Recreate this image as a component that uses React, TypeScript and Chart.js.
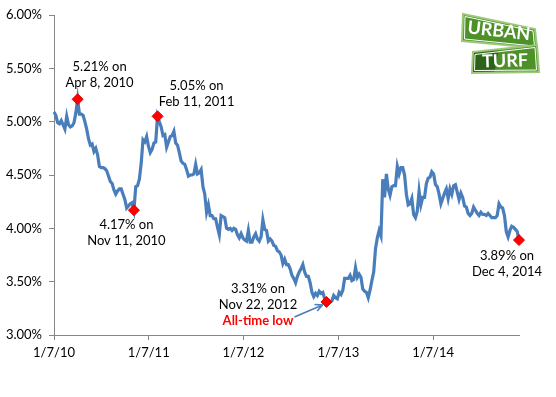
import React, { useEffect, useRef } from 'react';
import { Chart, registerables } from 'chart.js';

Chart.register(...registerables);

// Weekly 30-year fixed rates (%), first week = 1/7/10
const rates2010 = [5.09, 5.06, 4.99, 4.98, 5.01, 4.97, 4.93, 5.05, 4.97, 4.95, 4.96, 4.99, 5.08, 5.21, 5.07, 5.07, 5.06, 5.00, 4.93, 4.84, 4.78, 4.79, 4.72, 4.75, 4.69, 4.58, 4.57, 4.57, 4.56, 4.54, 4.49, 4.44, 4.42, 4.36, 4.32, 4.35, 4.37, 4.37, 4.32, 4.27, 4.19, 4.21, 4.23, 4.24, 4.17, 4.39, 4.40, 4.46, 4.61, 4.83, 4.81, 4.86];
const rates2011 = [4.77, 4.71, 4.74, 4.80, 4.81, 5.05, 5.00, 4.95, 4.87, 4.88, 4.76, 4.81, 4.86, 4.87, 4.91, 4.80, 4.78, 4.71, 4.63, 4.61, 4.60, 4.55, 4.49, 4.50, 4.50, 4.51, 4.60, 4.51, 4.52, 4.55, 4.39, 4.32, 4.15, 4.22, 4.12, 4.12, 4.09, 4.09, 4.01, 3.94, 4.12, 4.11, 4.10, 4.00, 3.99, 4.00, 3.98, 4.00, 3.99, 3.94, 3.91, 3.95];
const rates2012 = [3.91, 3.89, 3.88, 3.98, 3.87, 3.87, 3.92, 3.95, 3.90, 3.88, 3.92, 4.08, 3.99, 3.98, 3.88, 3.90, 3.88, 3.84, 3.83, 3.79, 3.78, 3.75, 3.67, 3.71, 3.66, 3.66, 3.62, 3.56, 3.53, 3.49, 3.55, 3.59, 3.62, 3.66, 3.59, 3.55, 3.55, 3.49, 3.40, 3.36, 3.39, 3.37, 3.41, 3.39, 3.40, 3.34, 3.31, 3.32, 3.31, 3.32, 3.37, 3.35];
const rates2013 = [3.34, 3.40, 3.38, 3.42, 3.53, 3.53, 3.53, 3.56, 3.51, 3.52, 3.63, 3.54, 3.57, 3.54, 3.43, 3.41, 3.40, 3.35, 3.42, 3.51, 3.59, 3.81, 3.91, 3.98, 3.93, 4.46, 4.29, 4.51, 4.37, 4.31, 4.39, 4.40, 4.40, 4.58, 4.51, 4.57, 4.57, 4.50, 4.32, 4.22, 4.23, 4.28, 4.13, 4.10, 4.16, 4.35, 4.22, 4.29, 4.29, 4.42, 4.47, 4.48];
const rates2014 = [4.53, 4.51, 4.41, 4.39, 4.32, 4.23, 4.28, 4.33, 4.37, 4.28, 4.37, 4.32, 4.40, 4.41, 4.34, 4.27, 4.33, 4.29, 4.21, 4.20, 4.14, 4.12, 4.14, 4.20, 4.17, 4.14, 4.12, 4.15, 4.13, 4.13, 4.12, 4.14, 4.12, 4.10, 4.10, 4.10, 4.12, 4.23, 4.20, 4.19, 4.12, 3.97, 3.92, 3.98, 4.02, 4.01, 3.99, 3.97, 3.89];

const rates = [...rates2010, ...rates2011, ...rates2012, ...rates2013, ...rates2014];

// x axis in days since 1/7/10
const tickDays = [0, 365, 730, 1096, 1461];
const tickLabels = ['1/7/10', '1/7/11', '1/7/12', '1/7/13', '1/7/14'];
const yMin = 3;
const yMax = 6;
const yStep = 0.5;

// Highlighted points
const highlightIdx = [13, 44, 57, 150, 256];
const highlightDates = ['Apr 8, 2010', 'Nov 11, 2010', 'Feb 11, 2011', 'Nov 22, 2012', 'Dec 4, 2014'];
const lowNote = 'All-time low';

// label placement (offset from point, px) – styling only
const labelOffsets = [
  { dx: 22, dy: [-32, -16] },
  { dx: -7.5, dy: [15, 31] },
  { dx: 39, dy: [-31, -15] },
  { dx: -68.5, dy: [-13, 3, 19] },
  { dx: -12, dy: [16, 32] },
];

const FONT = 'Lato, "Open Sans", sans-serif';

function drawLogo(ctx: CanvasRenderingContext2D) {
  ctx.save();
  // URBAN sign
  const u = [[463, 14], [535, 29], [537, 48], [462, 41]];
  ctx.beginPath();
  u.forEach(([x, y], i) => (i ? ctx.lineTo(x, y) : ctx.moveTo(x, y)));
  ctx.closePath();
  ctx.fillStyle = '#4E9128';
  ctx.fill();
  ctx.lineWidth = 2;
  ctx.strokeStyle = '#9CC87A';
  ctx.stroke();
  ctx.beginPath();
  const ui = [[465, 16.5], [533, 31], [534.5, 46], [464.5, 39]];
  ui.forEach(([x, y], i) => (i ? ctx.lineTo(x, y) : ctx.moveTo(x, y)));
  ctx.closePath();
  ctx.lineWidth = 1;
  ctx.strokeStyle = '#ffffff';
  ctx.stroke();
  ctx.save();
  ctx.translate(499, 31);
  ctx.rotate(0.11);
  ctx.fillStyle = '#ffffff';
  ctx.font = 'bold 18px ' + FONT;
  ctx.textAlign = 'center';
  ctx.textBaseline = 'middle';
  ctx.fillText('URBAN', 0, 0);
  ctx.restore();

  // TURF sign
  const t = [[473, 52], [537, 45], [539, 72], [472, 73]];
  ctx.beginPath();
  t.forEach(([x, y], i) => (i ? ctx.lineTo(x, y) : ctx.moveTo(x, y)));
  ctx.closePath();
  ctx.fillStyle = '#4E9128';
  ctx.fill();
  ctx.save();
  ctx.clip();
  ctx.beginPath();
  ctx.moveTo(470, 50);
  ctx.lineTo(499, 48);
  ctx.lineTo(494, 75);
  ctx.lineTo(470, 75);
  ctx.closePath();
  ctx.fillStyle = '#2B6418';
  ctx.fill();
  ctx.restore();
  ctx.beginPath();
  t.forEach(([x, y], i) => (i ? ctx.lineTo(x, y) : ctx.moveTo(x, y)));
  ctx.closePath();
  ctx.lineWidth = 2;
  ctx.strokeStyle = '#9CC87A';
  ctx.stroke();
  ctx.beginPath();
  const ti = [[475, 54.5], [535, 47.5], [536.5, 70], [474.5, 70.5]];
  ti.forEach(([x, y], i) => (i ? ctx.lineTo(x, y) : ctx.moveTo(x, y)));
  ctx.closePath();
  ctx.lineWidth = 1;
  ctx.strokeStyle = '#ffffff';
  ctx.stroke();
  ctx.save();
  ctx.translate(505, 61);
  ctx.rotate(-0.03);
  ctx.fillStyle = '#ffffff';
  ctx.font = 'bold 18px ' + FONT;
  ctx.textAlign = 'center';
  ctx.textBaseline = 'middle';
  ctx.fillText('TURF', 0, 0);
  ctx.restore();
  ctx.restore();
}

const annotationPlugin = {
  id: 'annotations',
  afterDatasetsDraw(chart: any) {
    const ctx: CanvasRenderingContext2D = chart.ctx;
    const meta = chart.getDatasetMeta(0);
    ctx.save();
    ctx.textAlign = 'center';
    ctx.textBaseline = 'middle';
    highlightIdx.forEach((idx, k) => {
      const el = meta.data[idx];
      const off = labelOffsets[k];
      const lines = [rates[idx].toFixed(2) + '% on', highlightDates[k]];
      if (k === 3) lines.push(lowNote);
      lines.forEach((txt, j) => {
        if (txt === lowNote) {
          ctx.fillStyle = '#FF0000';
          ctx.font = 'bold 13px ' + FONT;
        } else {
          ctx.fillStyle = '#000000';
          ctx.font = '13px ' + FONT;
        }
        ctx.fillText(txt, el.x + off.dx, el.y + off.dy[j]);
      });
      if (k === 3) {
        // arrow
        const x1 = el.x - 32, y1 = el.y + 15;
        const x2 = el.x - 4, y2 = el.y + 3;
        ctx.strokeStyle = '#4A7EBB';
        ctx.lineWidth = 1.6;
        ctx.beginPath();
        ctx.moveTo(x1, y1);
        ctx.lineTo(x2, y2);
        const ang = Math.atan2(y2 - y1, x2 - x1);
        const h = 8;
        ctx.moveTo(x2 - h * Math.cos(ang - 0.45), y2 - h * Math.sin(ang - 0.45));
        ctx.lineTo(x2, y2);
        ctx.lineTo(x2 - h * Math.cos(ang + 0.45), y2 - h * Math.sin(ang + 0.45));
        ctx.stroke();
      }
    });
    ctx.restore();
  },
  afterDraw(chart: any) {
    drawLogo(chart.ctx);
  },
};

export default function App() {
  const ref = useRef<HTMLCanvasElement | null>(null);
  useEffect(() => {
    if (!ref.current) return;
    const data = rates.map((v, i) => ({ x: i * 7, y: v }));
    const radii = rates.map((_, i) => (highlightIdx.includes(i) ? 5.5 : 0));
    const chart = new Chart(ref.current, {
      type: 'line',
      data: {
        datasets: [
          {
            data,
            borderColor: '#4A7EBB',
            borderWidth: 3.2,
            tension: 0,
            clip: false as any,
            pointStyle: 'rectRot',
            pointRadius: radii,
            pointHoverRadius: radii,
            pointBackgroundColor: '#FF0000',
            pointBorderColor: '#E00000',
            pointBorderWidth: 1,
          },
        ],
      },
      options: {
        responsive: false,
        animation: false,
        events: [],
        layout: { padding: { left: 0, top: 15, right: 37, bottom: 0 } },
        plugins: { legend: { display: false }, tooltip: { enabled: false } },
        scales: {
          x: {
            type: 'linear',
            min: 0,
            max: (rates.length - 1) * 7,
            afterBuildTicks: (scale: any) => {
              scale.ticks = tickDays.map((v) => ({ value: v }));
            },
            afterFit: (scale: any) => {
              scale.height = 62;
            },
            ticks: {
              autoSkip: false,
              maxRotation: 0,
              padding: 5,
              color: '#000000',
              font: { family: FONT, size: 13 },
              callback: (v: any) => {
                const i = tickDays.indexOf(Number(v));
                return i >= 0 ? tickLabels[i] : '';
              },
            },
            grid: { drawOnChartArea: false, drawTicks: true, tickLength: 5, color: '#868686', lineWidth: 1 },
            border: { display: true, color: '#868686', width: 1 },
          },
          y: {
            min: yMin,
            max: yMax,
            afterFit: (scale: any) => {
              scale.width = 54;
            },
            ticks: {
              stepSize: yStep,
              padding: 7,
              color: '#000000',
              font: { family: FONT, size: 13 },
              callback: (v: any) => Number(v).toFixed(2) + '%',
            },
            grid: { drawOnChartArea: false, drawTicks: true, tickLength: 5, color: '#868686', lineWidth: 1 },
            border: { display: true, color: '#868686', width: 1 },
          },
        },
      },
      plugins: [annotationPlugin],
    });
    return () => chart.destroy();
  }, []);
  return (
    <div style={{ position: 'absolute', left: 0, top: 0, width: 556, height: 397, background: '#fff' }}>
      <canvas ref={ref} width={556} height={397} style={{ display: 'block' }} />
    </div>
  );
}
